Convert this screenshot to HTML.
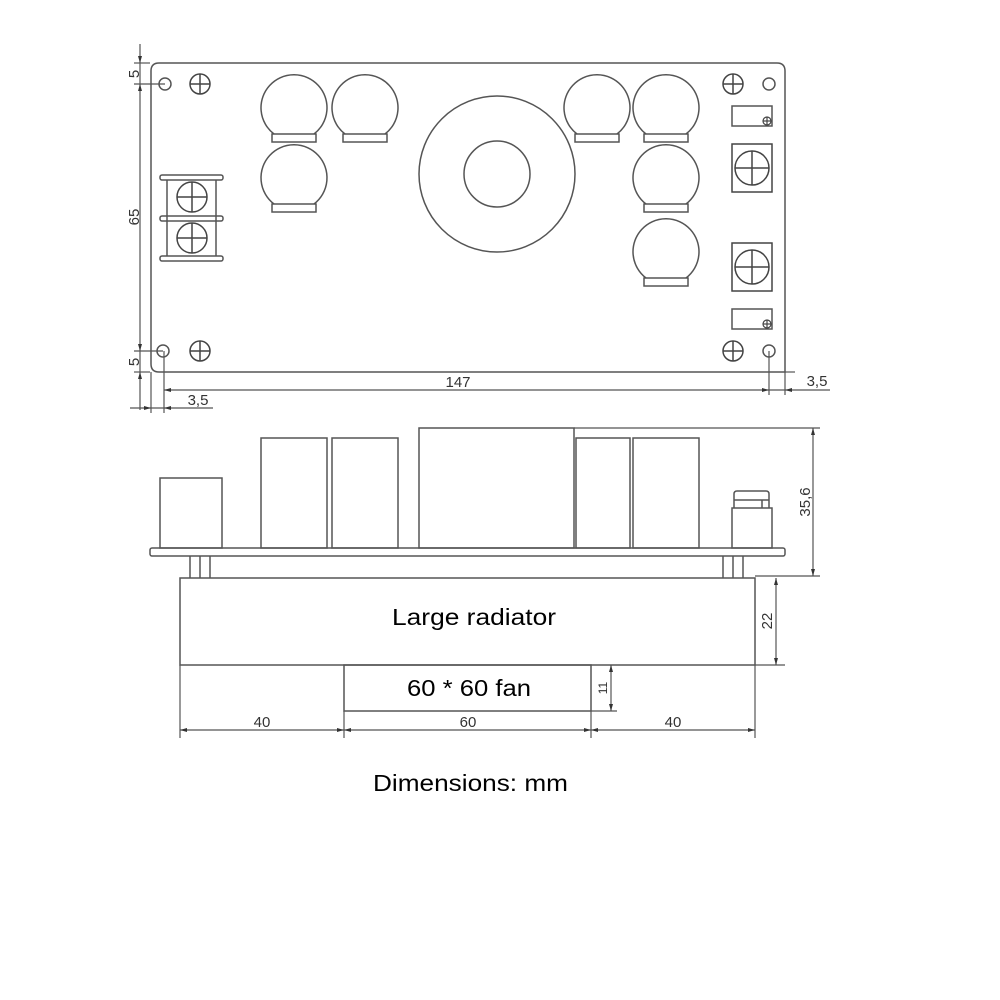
<!DOCTYPE html>
<html><head><meta charset="utf-8"><style>html,body{margin:0;background:#fff}svg{display:block}</style></head>
<body>
<svg width="1000" height="1000" viewBox="0 0 1000 1000" xmlns="http://www.w3.org/2000/svg">
<defs>
<g id="cap" fill="none" stroke="#555" stroke-width="1.5">
<path d="M-20,26 A33,33 0 1 1 20,26"/>
<rect x="-22" y="26" width="44" height="8"/>
</g>
<g id="cross" fill="none" stroke="#444" stroke-width="1.5">
<circle r="10"/><line x1="-10" y1="0" x2="10" y2="0"/><line x1="0" y1="-10" x2="0" y2="10"/>
</g>
<g id="cross5" fill="none" stroke="#444" stroke-width="1.2">
<circle r="4"/><line x1="-4" y1="0" x2="4" y2="0"/><line x1="0" y1="-4" x2="0" y2="4"/>
</g>
<g id="pot" fill="none" stroke="#444" stroke-width="1.5">
<rect x="-20" y="-24" width="40" height="48"/>
<circle r="17"/><line x1="-17" y1="0" x2="17" y2="0"/><line x1="0" y1="-17" x2="0" y2="17"/>
</g>
<g id="bigcross" fill="none" stroke="#444" stroke-width="1.5">
<circle r="15"/><line x1="-15" y1="0" x2="15" y2="0"/><line x1="0" y1="-15" x2="0" y2="15"/>
</g>
<path id="aR" d="M0,0 L-7,-2 L-7,2 Z" fill="#333"/>
<path id="aL" d="M0,0 L7,-2 L7,2 Z" fill="#333"/>
<path id="aU" d="M0,0 L-2,7 L2,7 Z" fill="#333"/>
<path id="aD" d="M0,0 L-2,-7 L2,-7 Z" fill="#333"/>
</defs>

<g fill="none" stroke="#555" stroke-width="1.5">
<path d="M159,63 H777 Q785,63 785,71 V372 H159 Q151,372 151,364 V71 Q151,63 159,63 Z"/>
<circle cx="165" cy="84" r="6"/>
<circle cx="163" cy="351" r="6"/>
<circle cx="769" cy="84" r="6"/>
<circle cx="769" cy="351" r="6"/>
<circle cx="497" cy="174" r="78"/>
<circle cx="497" cy="174" r="33"/>
<rect x="160" y="175" width="63" height="5" rx="2"/>
<rect x="160" y="216" width="63" height="5" rx="2"/>
<rect x="160" y="256" width="63" height="5" rx="2"/>
<line x1="167" y1="180" x2="167" y2="256"/>
<line x1="216" y1="180" x2="216" y2="256"/>
<rect x="732" y="106" width="40" height="20"/>
<rect x="732" y="309" width="40" height="20"/>
</g>
<use href="#cap" x="294" y="108"/>
<use href="#cap" x="365" y="108"/>
<use href="#cap" x="294" y="178"/>
<use href="#cap" x="597" y="108"/>
<use href="#cap" x="666" y="108"/>
<use href="#cap" x="666" y="178"/>
<use href="#cap" x="666" y="252"/>
<use href="#cross" x="200" y="84"/>
<use href="#cross" x="200" y="351"/>
<use href="#cross" x="733" y="84"/>
<use href="#cross" x="733" y="351"/>
<use href="#cross5" x="767" y="121"/>
<use href="#cross5" x="767" y="324"/>
<use href="#pot" x="752" y="168"/>
<use href="#pot" x="752" y="267"/>
<use href="#bigcross" x="192" y="197"/>
<use href="#bigcross" x="192" y="238"/>

<g stroke="#555" stroke-width="1.2" fill="none">
<line x1="140" y1="44" x2="140" y2="410"/>
<line x1="134" y1="63" x2="150" y2="63"/>
<line x1="134" y1="84" x2="165" y2="84"/>
<line x1="134" y1="351" x2="163" y2="351"/>
<line x1="134" y1="372" x2="150" y2="372"/>
<line x1="151" y1="372" x2="151" y2="413"/>
<line x1="164" y1="351" x2="164" y2="413"/>
<line x1="164" y1="390" x2="830" y2="390"/>
<line x1="785" y1="372" x2="785" y2="395"/>
<line x1="769" y1="351" x2="769" y2="395"/>
<line x1="785" y1="372" x2="795" y2="372"/>
<line x1="130" y1="408" x2="213" y2="408"/>
</g>
<use href="#aD" x="140" y="63"/><use href="#aU" x="140" y="84"/>
<use href="#aD" x="140" y="351"/><use href="#aU" x="140" y="372"/>
<use href="#aL" x="164" y="390"/>
<use href="#aR" x="151" y="408"/><use href="#aL" x="164" y="408"/>
<use href="#aR" x="769" y="390"/><use href="#aL" x="785" y="390"/>
<g fill="#333" font-family="Liberation Sans, sans-serif" font-size="15">
<text x="458" y="387" text-anchor="middle">147</text>
<text x="198" y="405" text-anchor="middle">3,5</text>
<text x="817" y="386" text-anchor="middle">3,5</text>
<text transform="translate(139,74) rotate(-90)" text-anchor="middle">5</text>
<text transform="translate(139,217) rotate(-90)" text-anchor="middle">65</text>
<text transform="translate(139,362) rotate(-90)" text-anchor="middle">5</text>
</g>

<g fill="none" stroke="#555" stroke-width="1.5">
<rect x="150" y="548" width="635" height="8" rx="2"/>
<rect x="160" y="478" width="62" height="70"/>
<rect x="261" y="438" width="66" height="110"/>
<rect x="332" y="438" width="66" height="110"/>
<rect x="419" y="428" width="155" height="120"/>
<rect x="576" y="438" width="54" height="110"/>
<rect x="633" y="438" width="66" height="110"/>
<rect x="732" y="508" width="40" height="40"/>
<path d="M734,508 V494 Q734,491 737,491 H766 Q769,491 769,494 V508"/>
<line x1="734" y1="500" x2="769" y2="500"/>
<line x1="762" y1="500" x2="762" y2="508"/>
<line x1="190" y1="556" x2="190" y2="578"/>
<line x1="200" y1="556" x2="200" y2="578"/>
<line x1="210" y1="556" x2="210" y2="578"/>
<line x1="723" y1="556" x2="723" y2="578"/>
<line x1="733" y1="556" x2="733" y2="578"/>
<line x1="743" y1="556" x2="743" y2="578"/>
<rect x="180" y="578" width="575" height="87"/>
<rect x="344" y="665" width="247" height="46"/>
</g>
<g stroke="#555" stroke-width="1.2" fill="none">
<line x1="574" y1="428" x2="820" y2="428"/>
<line x1="755" y1="576" x2="820" y2="576"/>
<line x1="813" y1="428" x2="813" y2="576"/>
<line x1="776" y1="578" x2="776" y2="665"/>
<line x1="755" y1="665" x2="785" y2="665"/>
<line x1="611" y1="665" x2="611" y2="711"/>
<line x1="591" y1="711" x2="617" y2="711"/>
<line x1="180" y1="665" x2="180" y2="738"/>
<line x1="344" y1="711" x2="344" y2="738"/>
<line x1="591" y1="711" x2="591" y2="738"/>
<line x1="755" y1="665" x2="755" y2="738"/>
<line x1="180" y1="730" x2="755" y2="730"/>
</g>
<use href="#aU" x="813" y="428"/><use href="#aD" x="813" y="576"/>
<use href="#aU" x="776" y="578"/><use href="#aD" x="776" y="665"/>
<use href="#aU" x="611" y="665"/><use href="#aD" x="611" y="711"/>
<use href="#aL" x="180" y="730"/><use href="#aR" x="344" y="730"/>
<use href="#aL" x="344" y="730"/><use href="#aR" x="591" y="730"/>
<use href="#aL" x="591" y="730"/><use href="#aR" x="755" y="730"/>
<g fill="#333" font-family="Liberation Sans, sans-serif" font-size="15">
<text x="262" y="727" text-anchor="middle">40</text>
<text x="468" y="727" text-anchor="middle">60</text>
<text x="673" y="727" text-anchor="middle">40</text>
<text transform="translate(810,502) rotate(-90)" text-anchor="middle">35,6</text>
<text transform="translate(772,621) rotate(-90)" text-anchor="middle">22</text>
<text transform="translate(607,688) rotate(-90)" text-anchor="middle" font-size="12">11</text>
</g>
<g fill="#000" font-family="Liberation Sans, sans-serif" font-size="23">
<text x="392" y="625" textLength="164" lengthAdjust="spacingAndGlyphs">Large radiator</text>
<text x="407" y="696" textLength="124" lengthAdjust="spacingAndGlyphs">60 * 60 fan</text>
<text x="373" y="791" textLength="195" lengthAdjust="spacingAndGlyphs">Dimensions: mm</text>
</g>
</svg>
</body></html>
